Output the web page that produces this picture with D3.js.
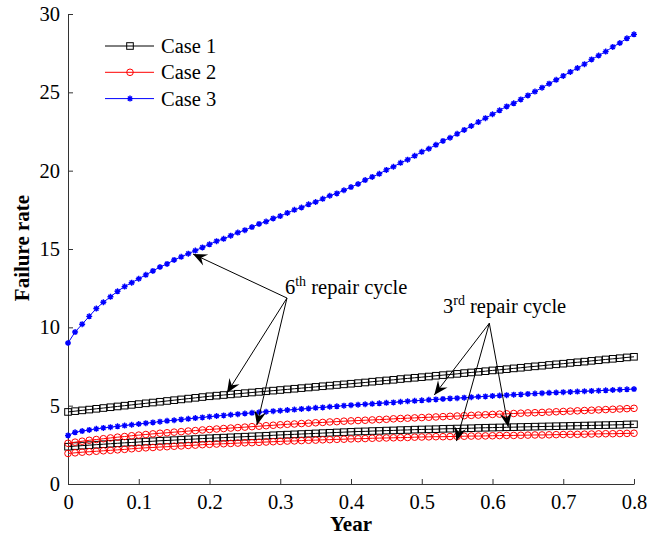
<!DOCTYPE html>
<html>
<head>
<meta charset="utf-8">
<script src="https://cdn.jsdelivr.net/npm/d3@7"></script>
<style>
  body { margin: 0; background: #fff; }
  svg text { font-family: "Liberation Serif", "Times New Roman", Tinos, "DejaVu Serif", "Noto Serif", serif; }
</style>
</head>
<body>
<div id="chart" style="width:649px;height:538px"></div>
<script>
// sample times (year)
const years = [0,0.01,0.02,0.03,0.04,0.05,0.06,0.07,0.08,0.09,0.1,0.11,0.12,0.13,0.14,0.15,0.16,0.17,0.18,0.19,0.2,
  0.21,0.22,0.23,0.24,0.25,0.26,0.27,0.28,0.29,0.3,0.31,0.32,0.33,0.34,0.35,0.36,0.37,0.38,0.39,0.4,
  0.41,0.42,0.43,0.44,0.45,0.46,0.47,0.48,0.49,0.5,0.51,0.52,0.53,0.54,0.55,0.56,0.57,0.58,0.59,0.6,
  0.61,0.62,0.63,0.64,0.65,0.66,0.67,0.68,0.69,0.7,0.71,0.72,0.73,0.74,0.75,0.76,0.77,0.78,0.79,0.8];

// Case 1 (black squares), 6th and 3rd repair cycle
const case1Six = [4.60,4.65,4.70,4.75,4.80,4.85,4.90,4.95,5.00,5.05,5.10,5.15,5.20,5.25,5.30,5.35,5.40,5.45,5.50,5.55,5.60,
  5.64,5.68,5.72,5.76,5.80,5.84,5.88,5.92,5.96,6.00,6.04,6.08,6.12,6.16,6.20,6.24,6.28,6.32,6.36,6.40,
  6.44,6.48,6.53,6.57,6.61,6.65,6.70,6.74,6.78,6.82,6.86,6.91,6.95,6.99,7.03,7.08,7.12,7.16,7.20,7.25,
  7.29,7.33,7.38,7.42,7.47,7.51,7.55,7.60,7.64,7.68,7.73,7.77,7.81,7.86,7.90,7.95,7.99,8.03,8.08,8.12];
const case1Three = [2.38,2.42,2.45,2.48,2.51,2.54,2.57,2.60,2.63,2.65,2.68,2.71,2.73,2.76,2.78,2.80,2.83,2.85,2.87,2.90,2.92,
  2.94,2.96,2.98,3.00,3.02,3.04,3.06,3.08,3.11,3.13,3.15,3.17,3.19,3.21,3.23,3.25,3.27,3.29,3.31,3.33,
  3.35,3.36,3.38,3.39,3.41,3.42,3.44,3.45,3.47,3.48,3.49,3.50,3.52,3.53,3.54,3.55,3.56,3.58,3.59,3.60,
  3.61,3.62,3.63,3.64,3.65,3.66,3.67,3.68,3.69,3.70,3.71,3.72,3.73,3.74,3.75,3.76,3.77,3.78,3.80,3.81];

// Case 2 (red circles)
const case2Six = [2.60,2.67,2.73,2.79,2.84,2.89,2.94,2.99,3.03,3.08,3.12,3.16,3.20,3.24,3.27,3.31,3.34,3.38,3.41,3.45,3.48,
  3.51,3.54,3.57,3.60,3.63,3.66,3.69,3.72,3.75,3.78,3.81,3.83,3.86,3.88,3.91,3.93,3.96,3.98,4.01,4.03,
  4.05,4.07,4.09,4.11,4.13,4.16,4.18,4.20,4.22,4.24,4.26,4.28,4.30,4.32,4.34,4.36,4.38,4.40,4.42,4.44,
  4.46,4.48,4.50,4.52,4.54,4.55,4.57,4.59,4.61,4.63,4.65,4.67,4.69,4.71,4.73,4.75,4.77,4.79,4.81,4.83];
const case2Three = [1.95,1.99,2.03,2.06,2.09,2.12,2.15,2.18,2.21,2.25,2.28,2.31,2.33,2.36,2.38,2.41,2.43,2.46,2.48,2.51,2.53,
  2.55,2.57,2.59,2.61,2.63,2.64,2.66,2.68,2.70,2.72,2.74,2.75,2.77,2.79,2.80,2.82,2.83,2.85,2.86,2.88,
  2.89,2.90,2.92,2.93,2.94,2.95,2.96,2.97,2.99,3.00,3.01,3.02,3.02,3.03,3.04,3.05,3.06,3.06,3.07,3.08,
  3.09,3.10,3.10,3.11,3.12,3.13,3.13,3.14,3.15,3.16,3.17,3.17,3.18,3.19,3.20,3.21,3.21,3.22,3.23,3.24];

// Case 3 (blue stars)
const case3Six = [9.0,9.7,10.2,10.7,11.2,11.6,11.95,12.3,12.6,12.85,13.1,13.35,13.6,13.85,14.05,14.3,14.5,14.7,14.9,15.1,15.3,
  15.5,15.65,15.85,16.05,16.2,16.4,16.6,16.75,16.95,17.1,17.3,17.5,17.65,17.85,18.0,18.2,18.4,18.55,18.75,18.95,
  19.15,19.4,19.6,19.8,20.05,20.25,20.5,20.7,20.95,21.2,21.4,21.65,21.9,22.1,22.35,22.6,22.85,23.1,23.35,23.6,
  23.85,24.1,24.3,24.55,24.8,25.05,25.3,25.55,25.8,26.05,26.3,26.55,26.8,27.1,27.35,27.6,27.9,28.15,28.45,28.7];
const case3Three = [3.10,3.30,3.38,3.45,3.52,3.58,3.63,3.68,3.73,3.78,3.83,3.88,3.93,3.98,4.03,4.07,4.12,4.16,4.21,4.25,4.30,
  4.34,4.38,4.42,4.46,4.50,4.54,4.58,4.61,4.65,4.68,4.72,4.75,4.79,4.82,4.86,4.89,4.93,4.96,5.00,5.03,
  5.06,5.09,5.12,5.15,5.18,5.21,5.25,5.28,5.31,5.34,5.37,5.40,5.43,5.46,5.48,5.51,5.54,5.57,5.59,5.62,
  5.65,5.67,5.70,5.72,5.75,5.77,5.80,5.82,5.84,5.86,5.88,5.90,5.92,5.94,5.96,5.98,6.00,6.02,6.04,6.06];

const xTicks = [0, 0.1, 0.2, 0.3, 0.4, 0.5, 0.6, 0.7, 0.8];
const xTickLabels = ["0", "0.1", "0.2", "0.3", "0.4", "0.5", "0.6", "0.7", "0.8"];
const yTicks = [0, 5, 10, 15, 20, 25, 30];
const legendNames = ["Case 1", "Case 2", "Case 3"];

// annotation anchors in data units: [x, y]
const note6Text = [0.3067, 12.13];
const note6From = [0.3095, 11.87];
const note6To = [[0.1767, 14.68], [0.2247, 5.81], [0.2671, 3.77]];
const note3Text = [0.530, 10.93];
const note3From = [0.5955, 10.26];
const note3To = [[0.5177, 5.68], [0.5491, 2.74], [0.6223, 3.64]];

const series = [
  {values: case1Six, color: "#000", marker: "square"},
  {values: case1Three, color: "#000", marker: "square"},
  {values: case2Six, color: "#f00", marker: "circle"},
  {values: case2Three, color: "#f00", marker: "circle"},
  {values: case3Six, color: "#00f", marker: "star"},
  {values: case3Three, color: "#00f", marker: "star"}
];
const styleOf = {
  "Case 1": {color: "#000", marker: "square"},
  "Case 2": {color: "#f00", marker: "circle"},
  "Case 3": {color: "#00f", marker: "star"}
};
const serif = "'Liberation Serif', 'Times New Roman', Tinos, 'DejaVu Serif', 'Noto Serif', serif";

const container = document.getElementById("chart");
const margin = {top: 14, right: 15, bottom: 54, left: 68};
const width = 649 - margin.left - margin.right;
const height = 538 - margin.top - margin.bottom;

const svgRoot = d3.select(container).append("svg")
  .attr("width", 649)
  .attr("height", 538);
const svg = svgRoot.append("g")
  .attr("transform", `translate(${margin.left},${margin.top})`);

const x = d3.scaleLinear().domain([0, 0.8]).range([0, width]);
const y = d3.scaleLinear().domain([0, 30]).range([height, 0]);

function drawMarker(sel, kind, color) {
  if (kind === "square") {
    sel.append("rect").attr("x", -3.3).attr("y", -3.3).attr("width", 6.6).attr("height", 6.6)
      .attr("fill", "none").attr("stroke", color).attr("stroke-width", 1);
  } else if (kind === "circle") {
    sel.append("circle").attr("r", 3.3)
      .attr("fill", "none").attr("stroke", color).attr("stroke-width", 1);
  } else {
    sel.append("path").attr("d", "M-3,0H3M0,-3V3M-2.1,-2.1L2.1,2.1M-2.1,2.1L2.1,-2.1")
      .attr("fill", "none").attr("stroke", color).attr("stroke-width", 1.4);
  }
}

// axes
const xAxis = svg.append("g")
  .attr("transform", `translate(0,${height})`)
  .call(d3.axisBottom(x).tickValues(xTicks).tickFormat((d, i) => xTickLabels[i])
    .tickSizeInner(-5).tickSizeOuter(0).tickPadding(10));
const yAxis = svg.append("g")
  .call(d3.axisLeft(y).tickValues(yTicks).tickSizeInner(-5).tickSizeOuter(0).tickPadding(8));
[xAxis, yAxis].forEach(a => {
  a.attr("font-family", serif).attr("font-size", 20.5);
  a.selectAll("path, line").attr("stroke", "#333");
  a.selectAll("text").attr("fill", "#000");
});

// series
const line = d3.line().x((d, i) => x(years[i])).y(d => y(d));
series.forEach(s => {
  svg.append("path").datum(s.values)
    .attr("fill", "none").attr("stroke", s.color).attr("stroke-width", 1)
    .attr("d", line);
  svg.append("g").selectAll("g")
    .data(s.values)
    .enter().append("g")
    .attr("transform", (d, i) => `translate(${x(years[i])},${y(d)})`)
    .each(function() { drawMarker(d3.select(this), s.marker, s.color); });
});

// annotations
function arrow(from, to) {
  const x0 = x(from[0]), y0 = y(from[1]), x1 = x(to[0]), y1 = y(to[1]);
  svg.append("line").attr("x1", x0).attr("y1", y0).attr("x2", x1).attr("y2", y1)
    .attr("stroke", "#000").attr("stroke-width", 1);
  const a = Math.atan2(y1 - y0, x1 - x0);
  const len = 14, hw = 6, notch = 9;
  const ux = Math.cos(a), uy = Math.sin(a);
  const px = -uy, py = ux;
  const pts = [
    [x1, y1],
    [x1 - ux * len + px * hw, y1 - uy * len + py * hw],
    [x1 - ux * notch, y1 - uy * notch],
    [x1 - ux * len - px * hw, y1 - uy * len - py * hw]
  ];
  svg.append("path").attr("d", "M" + pts.map(p => p.join(",")).join("L") + "Z")
    .attr("fill", "#000");
}
note6To.forEach(t => arrow(note6From, t));
note3To.forEach(t => arrow(note3From, t));

function note(pos, num, sup) {
  const t = svg.append("text").attr("x", x(pos[0])).attr("y", y(pos[1]))
    .attr("font-family", serif).attr("font-size", 20.5).attr("fill", "#000");
  t.append("tspan").text(num);
  t.append("tspan").attr("dy", -8).attr("font-size", 14).text(sup);
  t.append("tspan").attr("dy", 8).text(" repair cycle");
}
note(note6Text, "6", "th");
note(note3Text, "3", "rd");

// legend
const legend = svg.append("g").attr("transform", "translate(37,32)");
legendNames.forEach((name, i) => {
  const st = styleOf[name];
  const row = legend.append("g").attr("transform", `translate(0,${i * 26.3})`);
  row.append("line").attr("x1", 0).attr("x2", 49).attr("stroke", st.color).attr("stroke-width", 1);
  drawMarker(row.append("g").attr("transform", "translate(25,0)"), st.marker, st.color);
  row.append("text").attr("x", 56).attr("y", 7)
    .attr("font-family", serif).attr("font-size", 20.5).text(name);
});

// axis titles
svgRoot.append("text")
  .attr("x", margin.left + width / 2).attr("y", 531)
  .attr("text-anchor", "middle")
  .attr("font-family", serif).attr("font-size", 21).attr("font-weight", "bold")
  .text("Year");
svgRoot.append("text")
  .attr("transform", "translate(29,248) rotate(-90)")
  .attr("text-anchor", "middle")
  .attr("font-family", serif).attr("font-size", 21).attr("font-weight", "bold")
  .text("Failure rate");
</script>
</body>
</html>
